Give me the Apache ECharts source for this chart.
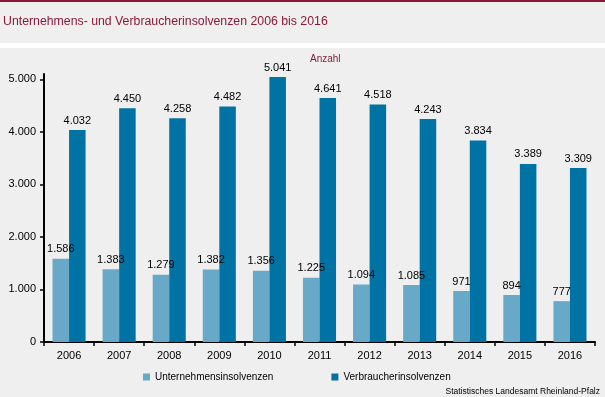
<!DOCTYPE html>
<html>
<head>
<meta charset="utf-8">
<script src="https://cdn.jsdelivr.net/npm/echarts@6/dist/echarts.min.js"></script>
<style>
  html, body { margin: 0; padding: 0; background: #eeefee; }
  #main { width: 605px; height: 397px; }
</style>
</head>
<body>
<div id="main"></div>
<script>
// Jahre
var years = ['2006', '2007', '2008', '2009', '2010', '2011', '2012', '2013', '2014', '2015', '2016'];
// Unternehmensinsolvenzen
var unternehmen = [1586, 1383, 1279, 1382, 1356, 1225, 1094, 1085, 971, 894, 777];
// Verbraucherinsolvenzen
var verbraucher = [4032, 4450, 4258, 4482, 5041, 4641, 4518, 4243, 3834, 3389, 3309];
// y-Achse Beschriftung
var yTicks = [0, 1000, 2000, 3000, 4000, 5000];

// Tausenderpunkt wie im Original
function fmt(v) {
    return String(v).replace(/\B(?=(\d{3})+(?!\d))/g, '.');
}

var FONT = '"Liberation Sans", Arial, sans-serif';
var chart = echarts.init(document.getElementById('main'));

chart.setOption({
    backgroundColor: '#eeefee',
    animation: false,
    textStyle: { fontFamily: FONT },
    graphic: [
        { type: 'rect', shape: { x: 0, y: 0, width: 605, height: 2 }, style: { fill: '#8b1a3a' } },
        { type: 'rect', shape: { x: 0, y: 43, width: 605, height: 5 }, style: { fill: '#ffffff' } },
        {
            type: 'text', left: 3, top: 16,
            style: { text: 'Unternehmens- und Verbraucherinsolvenzen 2006 bis 2016', fill: '#8b1a3a', font: '12.3px ' + FONT }
        },
        {
            type: 'text', left: 310, top: 54,
            style: { text: 'Anzahl', fill: '#8b1a3a', font: '10px ' + FONT }
        },
        {
            type: 'text', right: 5, top: 387,
            style: { text: 'Statistisches Landesamt Rheinland-Pfalz', fill: '#000000', font: '8.5px ' + FONT }
        }
    ],
    legend: {
        left: 138,
        top: 367,
        itemWidth: 7,
        itemHeight: 7,
        itemGap: 58,
        icon: 'rect',
        textStyle: { fontSize: 10, color: '#000', fontFamily: FONT },
        data: ['Unternehmensinsolvenzen', 'Verbraucherinsolvenzen']
    },
    grid: {
        left: 44,
        right: 10,
        top: 74,
        bottom: 55,
        containLabel: false
    },
    xAxis: {
        type: 'category',
        data: years,
        axisLine: { lineStyle: { color: '#000', width: 2 } },
        axisTick: { show: true, length: 4, lineStyle: { color: '#000', width: 1.5 } },
        axisLabel: { color: '#000', fontSize: 11, margin: 8, fontFamily: FONT }
    },
    yAxis: {
        type: 'value',
        min: 0,
        max: 5100,
        interval: 1000,
        splitLine: { show: false },
        axisLine: { show: true, lineStyle: { color: '#000', width: 2 } },
        axisTick: { show: true, length: 4, customValues: yTicks, lineStyle: { color: '#000', width: 1.5 } },
        axisLabel: {
            color: '#000', fontSize: 11, margin: 8, fontFamily: FONT,
            customValues: yTicks,
            formatter: function (v) { return fmt(v); }
        }
    },
    series: [
        {
            name: 'Unternehmensinsolvenzen',
            type: 'bar',
            data: unternehmen,
            barGap: '0%',
            barCategoryGap: '34%',
            itemStyle: { color: '#68a9c7' },
            label: {
                show: true, position: 'top', distance: 4, color: '#000', fontSize: 11, fontFamily: FONT,
                formatter: function (p) { return fmt(p.value); }
            }
        },
        {
            name: 'Verbraucherinsolvenzen',
            type: 'bar',
            data: verbraucher,
            barGap: '0%',
            barCategoryGap: '34%',
            itemStyle: { color: '#0072a3' },
            label: {
                show: true, position: 'top', distance: 4, color: '#000', fontSize: 11, fontFamily: FONT,
                formatter: function (p) { return fmt(p.value); }
            }
        }
    ]
});
</script>
</body>
</html>
